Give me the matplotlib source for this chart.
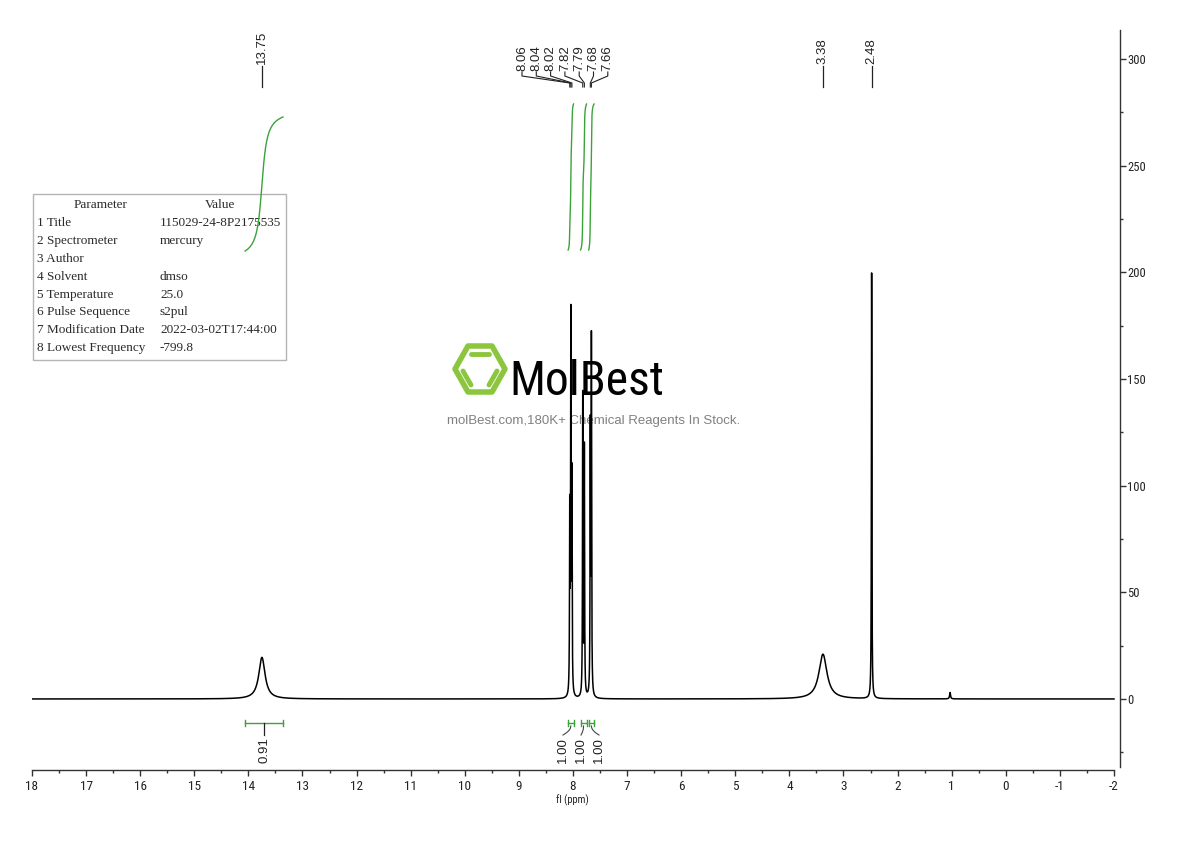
import numpy as np
import matplotlib
matplotlib.use("Agg")
import matplotlib.pyplot as plt
import matplotlib.font_manager as fm
from matplotlib.patches import Rectangle, Polygon
from matplotlib.transforms import blended_transform_factory
from matplotlib.ticker import FixedLocator, MultipleLocator

# ---------------- data ----------------
peak_ppm    = [13.75, 8.06, 8.04, 8.02, 7.82, 7.79, 7.68, 7.66, 3.38, 2.48, 1.03]
peak_height = [19.5, 84.0, 174.0, 99.0, 141.0, 116.0, 123.0, 165.0, 21.0, 199.5, 3.0]
peak_fwhm   = [0.14, 0.010, 0.010, 0.010, 0.010, 0.010, 0.010, 0.010, 0.18, 0.010, 0.02]

label_single  = ["13.75", "3.38", "2.48"]
label_cluster = ["8.06", "8.04", "8.02", "7.82", "7.79", "7.68", "7.66"]

integral_ranges = [(14.06, 13.36), (8.09, 7.99), (7.86, 7.75), (7.71, 7.61)]
integral_values = ["0.91", "1.00", "1.00", "1.00"]

param_names  = ["Title", "Spectrometer", "Author", "Solvent", "Temperature",
                "Pulse Sequence", "Modification Date", "Lowest Frequency"]
param_values = ["115029-24-8P2175535", "mercury", "", "dmso", "25.0",
                "s2pul", "2022-03-02T17:44:00", "-799.8"]

x_ticks = list(range(18, -3, -1))
y_ticks = [0, 50, 100, 150, 200, 250, 300]

# ---------------- fonts ----------------
def find_condensed():
    prefs = ["liberationsansnarrow-regular", "robotocondensed-regular", "roboto_condensed-regular",
             "dejavusanscondensed.ttf", "opensans_condensed-regular", "opensanscondensed-regular",
             "notosans-condensed.ttf", "notosanscondensed-regular", "notosans-condensedregular"]
    files = [f.fname for f in fm.fontManager.ttflist]
    for p in prefs:
        for fn in files:
            if p in fn.lower().replace(" ", ""):
                return fn
    for fn in files:
        low = fn.lower()
        if ("condensed" in low or "narrow" in low) and "bold" not in low and "italic" not in low \
                and "light" not in low and "thin" not in low and "black" not in low and "medium" not in low:
            return fn
    return None

cond_file = find_condensed()
if cond_file:
    def NP(size):
        return fm.FontProperties(fname=cond_file, size=size)
else:
    def NP(size):
        return fm.FontProperties(family="DejaVu Sans", size=size * 0.85)

SANS = ["Liberation Sans", "DejaVu Sans"]
SERIF = ["Liberation Serif", "DejaVu Serif"]

# ---------------- figure ----------------
W, H, DPI = 1190, 841, 100
fig = plt.figure(figsize=(W / DPI, H / DPI), dpi=DPI)
fig.patch.set_facecolor("white")

def fx(px):
    return px / W

def fy(py):
    return 1 - py / H

ax = fig.add_axes([fx(32), fy(770), (1120 - 32) / W, (770 - 30) / H])
ax.set_xlim(18, -2.111)
ax.set_ylim(-33.3, 313.6)
ax.set_facecolor("none")

# spectrum
ppm = np.linspace(18, -2, 40001)
spec = np.zeros_like(ppm)
for p, h, w in zip(peak_ppm, peak_height, peak_fwhm):
    g = w / 2
    spec += h * g**2 / ((ppm - p) ** 2 + g**2)
ax.plot(ppm, spec, color="black", lw=1.1, zorder=3)

# axes styling
for s in ["top", "left"]:
    ax.spines[s].set_visible(False)
ax.spines["bottom"].set_bounds(-2, 18)
ax.spines["right"].set_bounds(-32, 313.6)
for s in ["bottom", "right"]:
    ax.spines[s].set_color("#333333")
    ax.spines[s].set_linewidth(1.0)

ax.xaxis.set_major_locator(FixedLocator(x_ticks))
ax.set_xticklabels([str(t) for t in x_ticks], fontproperties=NP(9.5), color="#222222")
ax.xaxis.set_minor_locator(MultipleLocator(0.5))
ax.tick_params(axis="x", which="major", direction="out", length=4.5, width=1, color="#333333", pad=3)
ax.tick_params(axis="x", which="minor", direction="out", length=2.2, width=1, color="#333333")

ax.yaxis.tick_right()
ax.yaxis.set_major_locator(FixedLocator(y_ticks))
ax.set_yticklabels([str(t) for t in y_ticks], fontproperties=NP(9), color="#222222")
ax.yaxis.set_minor_locator(FixedLocator([-25, 25, 75, 125, 175, 225, 275]))
ax.tick_params(axis="y", which="major", direction="out", length=4, width=1, color="#333333", pad=1)
ax.tick_params(axis="y", which="minor", direction="out", length=2.2, width=1, color="#333333")

fig.text(fx(572), fy(800), "fl (ppm)", fontproperties=NP(7.5), ha="center", va="center", color="#222222")

bt = blended_transform_factory(ax.transData, fig.transFigure)

def ppm_of_px(px):
    return 18 - (px - 32) / 54.1

# peak labels (single)
for lab in label_single:
    p = float(lab)
    ax.text(p, fy(64), lab, rotation=90, ha="center", va="bottom", transform=bt,
            family=SANS, fontsize=9.5, color="#222222", clip_on=False)
    ax.plot([p, p], [fy(66), fy(87)], transform=bt, color="#222222", lw=0.9, clip_on=False)

# peak labels (cluster)
for i, lab in enumerate(label_cluster):
    p = float(lab)
    xl = ppm_of_px(522 + i * 14.3)
    ax.text(xl, fy(71), lab, rotation=90, ha="center", va="bottom", transform=bt,
            family=SANS, fontsize=9.5, color="#222222", clip_on=False)
    ax.plot([xl, xl, p, p], [fy(72), fy(76), fy(83), fy(87)], transform=bt,
            color="#222222", lw=0.8, clip_on=False)

# integral curves
GREEN = "#3aa33a"
def integral_curve(a, b, y0, y1):
    m = (ppm <= a) & (ppm >= b)
    xs = ppm[m]
    cum = np.cumsum(spec[m])
    cum = (cum - cum[0]) / (cum[-1] - cum[0])
    return xs, y0 + (y1 - y0) * cum

for k, (a, b) in enumerate(integral_ranges):
    if k == 0:
        y0, y1 = (699 - 251) / 2.1333, (699 - 117) / 2.1333
    else:
        y0, y1 = (699 - 250) / 2.1333, (699 - 104) / 2.1333
    xs, ys = integral_curve(a, b, y0, y1)
    ax.plot(xs, ys, color=GREEN, lw=1.0, zorder=6)

# integration brackets and values
for k, ((a, b), val) in enumerate(zip(integral_ranges, integral_values)):
    c = (a + b) / 2
    yb = fy(723)
    ax.plot([a, b], [yb, yb], transform=bt, color=GREEN, lw=1.0, clip_on=False)
    for e in (a, b):
        ax.plot([e, e], [fy(720), fy(726)], transform=bt, color=GREEN, lw=1.0, clip_on=False)
    if k == 0:
        ax.plot([c, c], [yb, fy(735)], transform=bt, color="#222222", lw=0.9, clip_on=False)
        ax.text(c, fy(737), val, rotation=90, ha="center", va="top", transform=bt,
                family=SANS, fontsize=9.5, color="#222222", clip_on=False)
    else:
        tx = ppm_of_px([563, 581, 599][k - 1])
        tt = np.linspace(0, 1, 20)
        xs = c + (tx - c) * tt
        ys = 726 + (735 - 726) * np.sqrt(tt)
        ax.plot(xs, fy(ys), transform=bt, color="#444444", lw=0.8, clip_on=False)
        ax.text(tx, fy(737), val, rotation=90, ha="center", va="top", transform=bt,
                family=SANS, fontsize=9.5, color="#222222", clip_on=False)

# parameter table
tbl = Rectangle((fx(33), fy(360)), fx(286) - fx(33), fy(194) - fy(360), transform=fig.transFigure,
                facecolor="white", edgecolor="#b5b5b5", lw=1.0, zorder=4, clip_on=False)
ax.add_patch(tbl)
TFS = 9.5
ax.text(fx(101), fy(205), "Parameter", transform=fig.transFigure, family=SERIF, fontsize=TFS,
        ha="center", va="center", color="#2a2a2a", zorder=5, clip_on=False)
ax.text(fx(220), fy(205), "Value", transform=fig.transFigure, family=SERIF, fontsize=TFS,
        ha="center", va="center", color="#2a2a2a", zorder=5, clip_on=False)
for i, (n, v) in enumerate(zip(param_names, param_values)):
    yy = fy(223 + i * 17.9)
    ax.text(fx(37), yy, f"{i + 1} {n}", transform=fig.transFigure, family=SERIF, fontsize=TFS,
            ha="left", va="center", color="#2a2a2a", zorder=5, clip_on=False)
    ax.text(fx(160), yy, v, transform=fig.transFigure, family=SERIF, fontsize=TFS,
            ha="left", va="center", color="#2a2a2a", zorder=5, clip_on=False)

# watermark logo
LOGO_GREEN = "#8cc63f"
hexv = [(455, 369), (468, 346), (492, 346), (505, 369), (492, 392), (468, 392)]
ax.add_patch(Polygon([(fx(x), fy(y)) for x, y in hexv], closed=True, transform=fig.transFigure,
                     fill=False, edgecolor=LOGO_GREEN, lw=4.0, joinstyle="round", zorder=1, clip_on=False))
for (x0, y0), (x1, y1) in [((471, 354), (489, 354)), ((463, 371), (471, 385)), ((489, 385), (497, 371))]:
    ax.plot([fx(x0), fx(x1)], [fy(y0), fy(y1)], transform=fig.transFigure, color=LOGO_GREEN,
            lw=3.5, solid_capstyle="round", zorder=1, clip_on=False)

logo = ax.text(fx(509), fy(395), "MolBest", transform=fig.transFigure, fontproperties=NP(42),
               ha="left", va="baseline", color="black", zorder=1, clip_on=False)
fig.canvas.draw()
ext = logo.get_window_extent(renderer=fig.canvas.get_renderer())
target_w = 155.0
if ext.width > 0:
    logo.set_fontproperties(NP(42 * target_w / ext.width) if cond_file else
                            fm.FontProperties(family="DejaVu Sans", size=42 * 0.85 * target_w / ext.width))

ax.text(fx(594), fy(421), "molBest.com,180K+ Chemical Reagents In Stock.", transform=fig.transFigure,
        family=SANS, fontsize=9.5, ha="center", va="center", color="#808080", zorder=1, clip_on=False)

fig.savefig("out.png", dpi=DPI)
